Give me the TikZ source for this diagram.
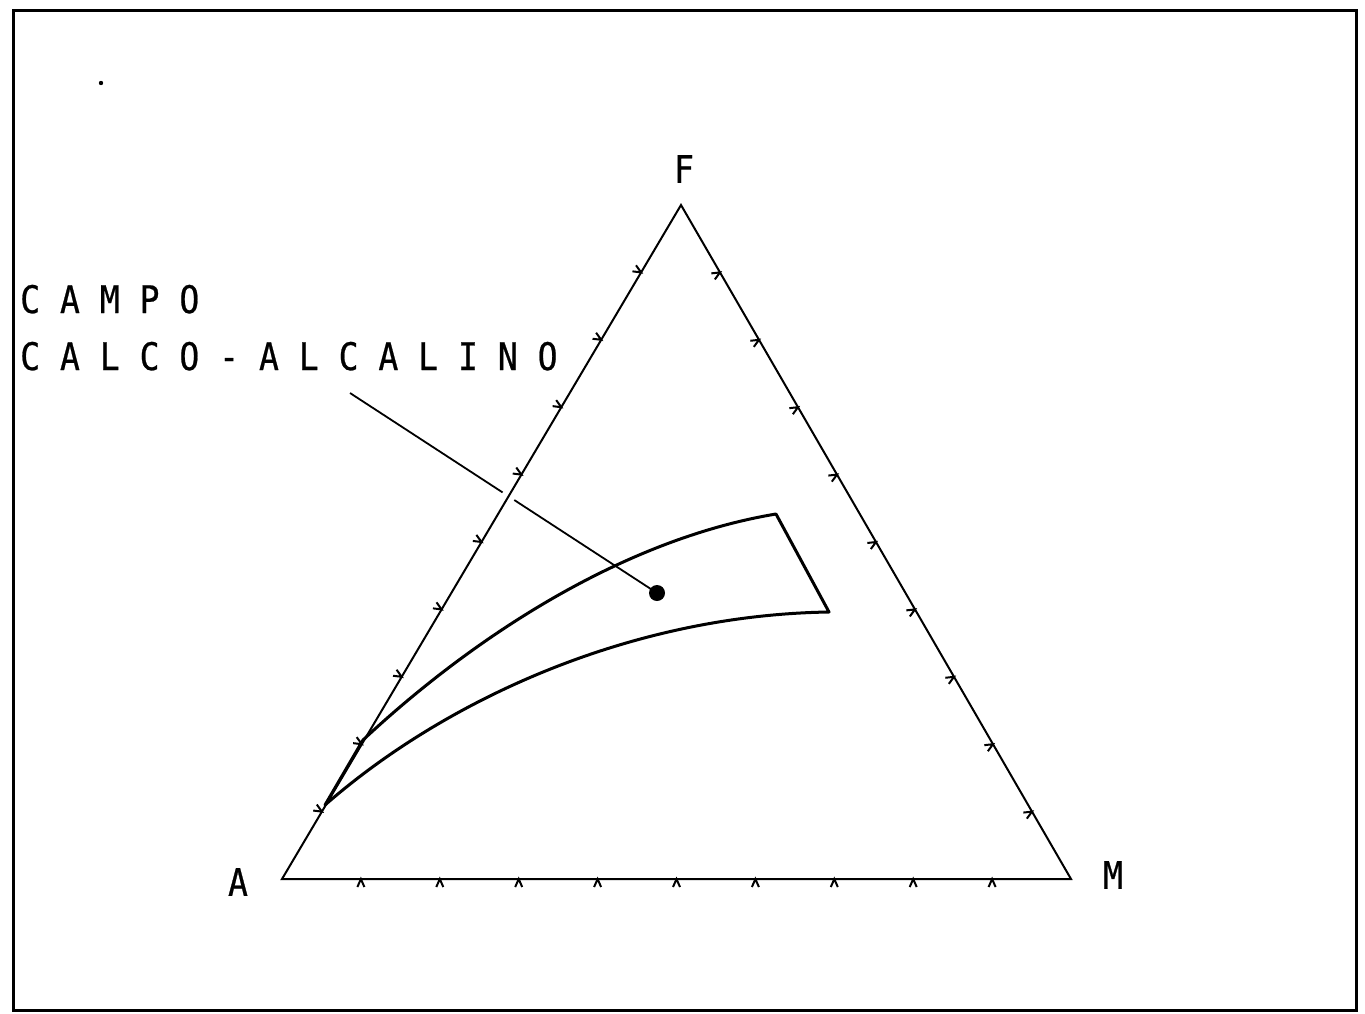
\documentclass[tikz,border=0pt]{standalone}
\usepackage{fontspec}
\usetikzlibrary{calc}
\newfontfamily\plotfont[FakeStretch=0.87,FakeBold=0.6]{DejaVu Sans Mono}
\begin{document}
\begin{tikzpicture}[x=1pt,y=-1pt,
  lbl/.style={font=\plotfont\fontsize{38}{42}\selectfont, inner sep=0pt},
  tri/.style={line width=2pt, line join=miter},
  field/.style={line width=3pt, line join=round},
  tk/.style={line width=2pt},
  leader/.style={line width=1.8pt}]
\useasboundingbox (0,0) rectangle (1365,1013);
\draw[line width=3pt] (13,10) rectangle (1356,1010);
% stray dot of the original
\fill (101,83) circle (2.2);
% triangle
\coordinate (A) at (282,879);
\coordinate (M) at (1071,879);
\coordinate (F) at (681,205);
\draw[tri] (A) -- (M) -- (F) -- cycle;
% ticks
\foreach \i in {1,...,9}{
  \pgfmathsetmacro\t{\i/10}
  % left side, outward
  \path ($(A)!\t!(F)$) coordinate (p) ($(p)!8pt!90:(F)$) coordinate (o);
  \draw[tk] ($(o)!3.5pt!90:(p)$) -- (p) -- ($(o)!3.5pt!-90:(p)$);
  % right side, inward
  \path ($(F)!\t!(M)$) coordinate (p) ($(p)!8pt!-90:(M)$) coordinate (o);
  \draw[tk] ($(o)!3.5pt!90:(p)$) -- (p) -- ($(o)!3.5pt!-90:(p)$);
  % bottom side, outward
  \path ($(A)!\t!(M)$) coordinate (p) ($(p)!8pt!-90:(M)$) coordinate (o);
  \draw[tk] ($(o)!3.5pt!90:(p)$) -- (p) -- ($(o)!3.5pt!-90:(p)$);
}
% vertex labels
\node[lbl] (lF) at (684,169) {F};
\node[lbl] (lA) at (238,882) {A};
\node[lbl] (lM) at (1113,875) {M};
% calc-alkaline field
\coordinate (u0) at (363,740);
\coordinate (u1) at (776,514);
\coordinate (l1) at (829,612);
\coordinate (l0) at (325,805);
\draw[field] (u0) .. controls (470,640) and (620,540) .. (u1)
  -- (l1) .. controls (630,615) and (445,700) .. (l0) -- cycle;
% label
\node[lbl, anchor=base west] (campo) at (20,313) {C A M P O};
\node[lbl, anchor=base west] (calco) at (20,370) {C A L C O - A L C A L I N O};
% leader
\coordinate (lead) at (350,393);
\node[circle, fill=black, minimum size=16pt, inner sep=0pt] (dot) at (657,593) {};
\coordinate (g1) at ($(lead)!0.497!(dot)$);
\coordinate (g2) at ($(lead)!0.535!(dot)$);
\draw[leader] (lead) -- (g1);
\draw[leader] (g2) -- (dot.center);
\end{tikzpicture}
\end{document}
